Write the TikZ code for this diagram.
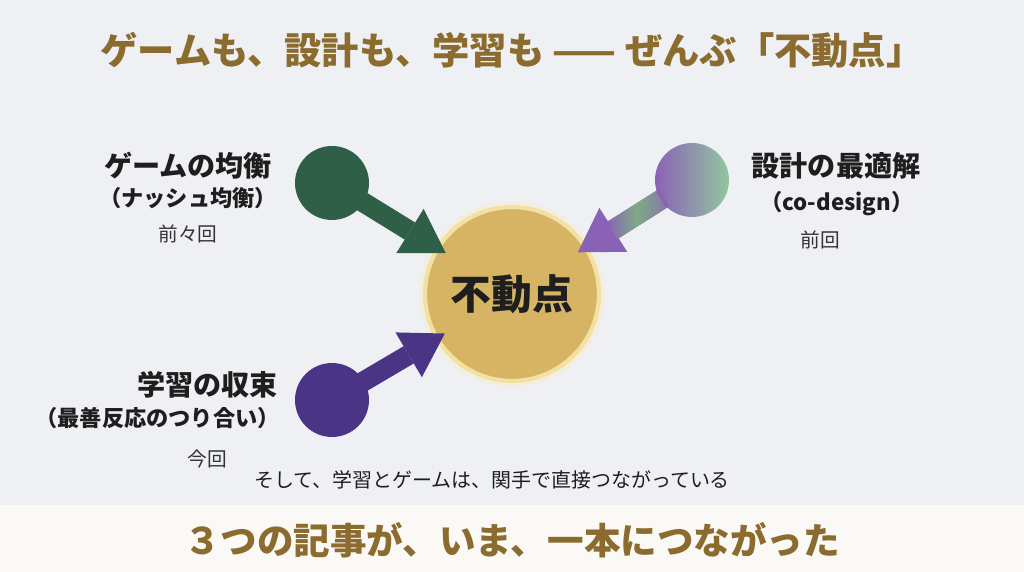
\documentclass[tikz,border=0pt]{standalone}
\usepackage{fontspec}
\setmainfont{Noto Sans CJK JP}
\usepackage{tikz}
\usetikzlibrary{arrows.meta,positioning}
\definecolor{Fondo}{HTML}{EEF0F3}
\definecolor{Banda}{HTML}{FAF9F6}
\definecolor{Oro}{HTML}{8B6B2E}
\definecolor{FijoRelleno}{HTML}{D6B464}
\definecolor{FijoAnillo}{HTML}{F3E1A4}
\definecolor{Halo}{HTML}{F3EEDF}
\definecolor{VerdeNash}{HTML}{2F5F47}
\definecolor{Morado}{HTML}{4A3486}
\definecolor{Violeta}{HTML}{8A62B5}
\definecolor{VioletaGris}{HTML}{8A78A8}
\definecolor{VerdeSuave}{HTML}{92C6A0}
\definecolor{VerdeEje}{HTML}{7DAA88}
\definecolor{Tinta}{HTML}{1E1E1E}
\definecolor{TintaGris}{HTML}{333333}

\begin{document}
\begin{tikzpicture}[
  every node/.style={inner sep=0pt,text=Tinta},
  dot/.style={circle,minimum size=1.85cm,inner sep=0pt},
  bigarrow/.style={-{Triangle[length=1.05cm,width=1.3cm,line width=0pt]},
    line width=0.5cm,shorten >=-0.28cm,shorten <=-0.1cm},
  mainlbl/.style={font=\fontsize{20}{24}\selectfont\bfseries},
  sublbl/.style={font=\fontsize{15.8}{18}\selectfont\bfseries},
  eplbl/.style={font=\fontsize{14}{16}\selectfont,text=TintaGris}
]
  \useasboundingbox (0,0) rectangle (25.6,14.3);
  \fill[Fondo] (0,0) rectangle (25.6,14.3);
  \fill[Banda] (0,0) rectangle (25.6,1.675);

  \node[font=\fontsize{26.5}{31}\selectfont\bfseries,text=Oro] (title) at (12.8,13.05)
    {ゲームも、設計も、学習も —— ぜんぶ「不動点」};

  % Punto fijo en el centro.
  \fill[Halo] (12.8,6.95) circle (2.32);
  \node[circle,minimum size=4.35cm,fill=FijoRelleno,draw=FijoAnillo,line width=3pt,
    font=\fontsize{29}{34}\selectfont\bfseries] (fix) at (12.8,6.95) {不動点};

  % Tres caminos hacia el punto fijo.
  \node[dot,fill=VerdeNash] (nash) at (8.3,9.725) {};
  \node[dot,left color=Violeta,right color=VerdeSuave] (codesign) at (17.3,9.8) {};
  \node[dot,fill=Morado] (learn) at (8.3,4.3) {};

  \draw[bigarrow,draw=VerdeNash] (nash) -- (fix);
  \draw[bigarrow,draw=Violeta] (codesign) -- (fix);
  \path (codesign) -- node[pos=0.33,sloped,rectangle,minimum width=1.45cm,
    minimum height=0.5cm,left color=Violeta,right color=VioletaGris,
    middle color=VerdeEje] (shaft) {} (fix);
  \draw[bigarrow,draw=Morado] (learn) -- (fix);

  % Rótulos.
  \node[mainlbl] (nashlbl) at (4.7,10.15) {ゲームの均衡};
  \node[sublbl] (nashsub) at (4.7,9.35) {（ナッシュ均衡）};
  \node[eplbl] (nashep) at (4.7,8.45) {前々回};

  \node[mainlbl] (designlbl) at (20.9,10.15) {設計の最適解};
  \node[sublbl] (designsub) at (20.92,9.22) {（co-design）};
  \node[eplbl] (designep) at (20.5,8.3) {前回};

  \node[mainlbl,anchor=east] (learnlbl) at (6.95,4.675) {学習の収束};
  \node[sublbl,anchor=east] (learnsub) at (7.0,3.85) {（最善反応のつり合い）};
  \node[eplbl] (learnep) at (5.175,2.82) {今回};

  \node[font=\fontsize{14.2}{17}\selectfont] (note) at (12.3,2.3)
    {そして、学習とゲームは、関手で直接つながっている};
  \node[font=\fontsize{26}{30}\selectfont\bfseries,text=Oro] (punch) at (12.8,0.8)
    {３つの記事が、いま、一本につながった};
\end{tikzpicture}
\end{document}
